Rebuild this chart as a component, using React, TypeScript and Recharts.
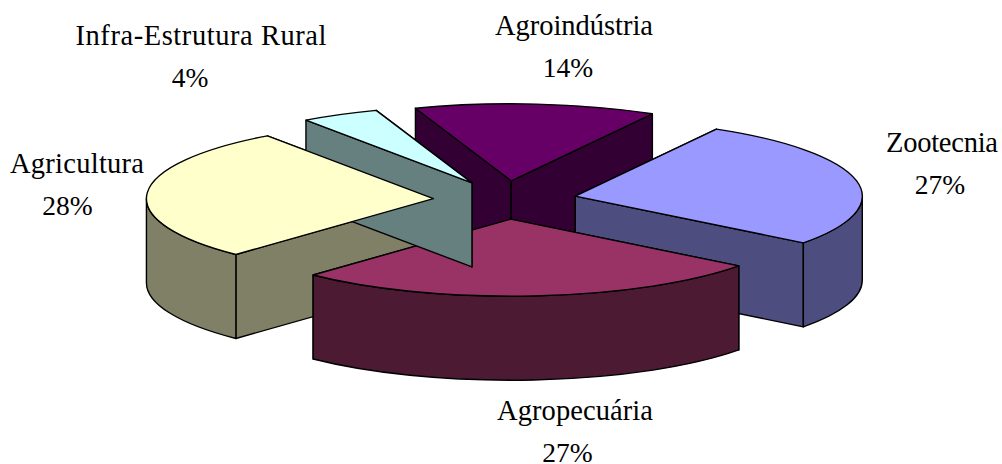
import { PieChart, Pie } from 'recharts';

const categories = ['Agroindústria', 'Zootecnia', 'Agropecuária', 'Agricultura', 'Infra-Estrutura Rural'];
const shares = [13.6, 27.2, 26.7, 28.1, 4.4];
const topColors = ['#660066', '#9999FF', '#993366', '#FFFFCC', '#CCFFFF'];
const wallColors = ['#330033', '#4D4D80', '#4D1A33', '#808066', '#668080'];

// label placement from the pie centre: name x, name baseline, percent x, name width
const labelLayout = [
  [69, -165, 63, 158],
  [437, -48, 435, 112],
  [70, 220, 62.5, 156],
  [-428, -27, -437.5, 134],
  [-304, -155, -315, 251],
];

const tableData = categories.map((name, i) => ({ name, value: shares[i], index: i }));

const CX = 505;
const CY = 200;
const RADIUS = 287;
const SQUASH = 77 / 287;
const DEPTH = 84;
const EXPLODE = 0.25;

const rad = (a: number) => (a * Math.PI) / 180;

// excel paints these out of order, so a slice can be split over the layers
const layers: Record<string, string[]>[] = [
  { Agroindústria: ['walls', 'top'], Zootecnia: ['walls', 'top'], Agricultura: ['walls'] },
  { Agropecuária: ['walls', 'top'], 'Infra-Estrutura Rural': ['walls', 'top'] },
  { Agricultura: ['top'] },
];

function makeSlice(layer: Record<string, string[]>) {
  return function Slice(props: any) {
    const { cx, cy, outerRadius, startAngle, endAngle, name, index } = props;
    const parts = layer[name];
    if (!parts) return <g />;
    const rx = outerRadius;
    const ry = outerRadius * SQUASH;
    const mid = (startAngle + endAngle) / 2;
    const ax = cx + rx * EXPLODE * Math.cos(rad(mid));
    const ay = cy - ry * EXPLODE * Math.sin(rad(mid));
    const px = (a: number) => ax + rx * Math.cos(rad(a));
    const py = (a: number) => ay - ry * Math.sin(rad(a));
    const line = { stroke: '#000', strokeWidth: 1.4, strokeLinejoin: 'round' as const };

    const edges = [startAngle, endAngle].sort((a, b) => Math.sin(rad(b)) - Math.sin(rad(a)));
    const hi = Math.max(startAngle, endAngle);
    const lo = Math.min(startAngle, endAngle);

    // part of the rim that faces the viewer
    const rims: [number, number][] = [];
    for (const k of [-1, 0]) {
      const from = Math.min(hi, 360 * k);
      const to = Math.max(lo, 360 * k - 180);
      if (from > to) rims.push([from, to]);
    }

    return (
      <g>
        {parts.includes('walls') &&
          edges.map((a) => (
            <path
              key={a}
              d={`M${ax},${ay}L${px(a)},${py(a)}v${DEPTH}L${ax},${ay + DEPTH}Z`}
              fill={wallColors[index]}
              {...line}
            />
          ))}
        {parts.includes('walls') &&
          rims.map(([from, to]) => (
            <path
              key={from}
              d={`M${px(from)},${py(from)}A${rx},${ry} 0 0 1 ${px(to)},${py(to)}v${DEPTH}A${rx},${ry} 0 0 0 ${px(from)},${py(from) + DEPTH}Z`}
              fill={wallColors[index]}
              {...line}
            />
          ))}
        {parts.includes('top') && (
          <path
            d={`M${ax},${ay}L${px(startAngle)},${py(startAngle)}A${rx},${ry} 0 ${startAngle - endAngle > 180 ? 1 : 0} 1 ${px(endAngle)},${py(endAngle)}Z`}
            fill={topColors[index]}
            {...line}
          />
        )}
      </g>
    );
  };
}

function renderLabel(props: any) {
  const { cx, cy, index, name, value } = props;
  const [nameX, nameY, pctX, nameWidth] = labelLayout[index];
  return (
    <g fontFamily="Liberation Serif" fill="#000">
      <text x={cx + nameX} y={cy + nameY} textAnchor="middle" fontSize={28.5} textLength={nameWidth}>
        {name}
      </text>
      <text x={cx + pctX} y={cy + nameY + 42} textAnchor="middle" fontSize={27.5}>
        {Math.round(value)}%
      </text>
    </g>
  );
}

export default function App() {
  return (
    <div style={{ position: 'absolute', left: 0, top: 0, width: 1002, height: 464, background: '#fff' }}>
      <PieChart width={1002} height={464} margin={{ top: 0, right: 0, bottom: 0, left: 0 }}>
        {layers.map((layer, i) => {
          const Slice = makeSlice(layer);
          return (
            <Pie
              key={i}
              data={tableData}
              dataKey="value"
              nameKey="name"
              cx={CX}
              cy={CY}
              innerRadius={0}
              outerRadius={RADIUS}
              startAngle={109.5}
              endAngle={-250.5}
              stroke="none"
              shape={Slice}
              activeShape={Slice}
              inactiveShape={Slice}
              label={i === layers.length - 1 ? renderLabel : false}
              labelLine={false}
              isAnimationActive={false}
            />
          );
        })}
      </PieChart>
    </div>
  );
}
